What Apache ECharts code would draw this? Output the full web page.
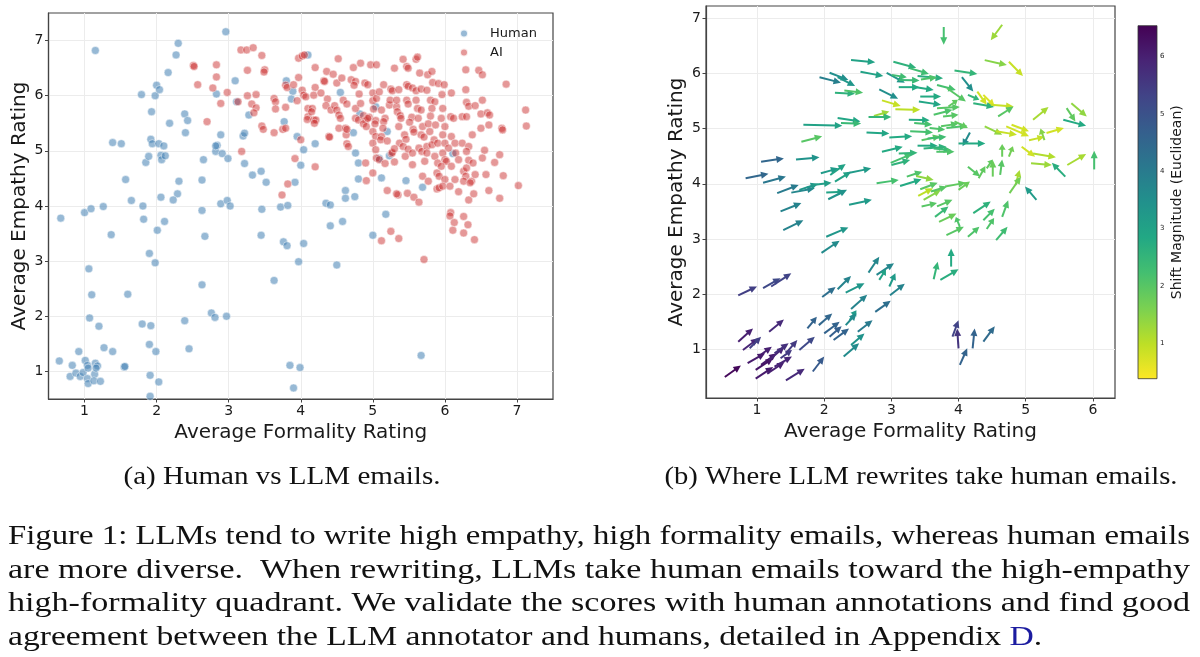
<!DOCTYPE html>
<html>
<head>
<meta charset="utf-8">
<script src="https://cdn.jsdelivr.net/npm/echarts@6/dist/echarts.min.js"></script>
<style>
html, body { margin: 0; padding: 0; background: #fff; }
#main { width: 1200px; height: 657px; }
</style>
</head>
<body>
<div id="main"></div>
<script>
// ---- (a) Human vs LLM emails ----
var humanX = [0.67,1.15,1.00,1.09,1.26,1.06,1.10,1.07,1.20,1.27,1.39,0.92,0.65,0.83,0.80,0.88,0.94,0.98,1.01,1.04,
  1.05,1.04,1.05,1.15,1.18,1.14,1.16,1.13,1.22,1.55,1.56,1.60,1.37,1.39,1.51,1.57,1.65,1.79,1.81,1.82,
  1.85,1.89,1.93,1.92,1.94,1.98,2.00,2.04,2.03,2.06,2.07,2.12,2.10,2.06,2.11,2.01,1.90,1.98,1.80,1.92,
  1.90,1.99,1.91,2.03,1.91,2.16,2.27,2.30,2.18,2.39,2.43,2.40,2.31,2.29,2.23,2.39,2.45,2.63,2.65,2.63,
  2.67,2.63,2.76,2.81,2.97,2.96,2.83,3.09,2.82,2.84,2.82,2.89,2.91,2.99,2.89,2.98,3.02,3.11,3.28,3.20,
  3.22,3.22,3.33,3.45,3.52,3.46,3.45,3.63,3.76,3.81,3.72,3.82,3.77,3.80,3.89,3.87,3.95,4.00,4.04,3.92,
  4.04,3.97,3.85,3.99,3.90,4.10,4.20,4.35,4.41,4.41,4.58,4.50,4.55,4.62,4.62,4.75,4.76,4.80,4.80,4.73,
  5.00,5.12,5.18,5.04,5.09,5.20,5.23,5.46,5.69,5.67,6.11,4.82];
var humanY = [3.78,6.82,3.88,3.95,3.99,2.86,2.39,1.97,1.82,1.43,1.36,1.36,1.19,1.11,0.91,0.97,0.91,0.98,1.20,1.11,
  1.06,0.87,0.78,1.15,1.10,0.95,1.06,0.83,0.82,1.08,1.09,2.40,3.48,5.15,5.13,4.48,4.10,6.02,4.00,3.76,
  4.79,4.90,5.71,5.21,5.13,6.00,6.19,6.11,5.13,4.92,4.84,4.91,5.09,4.16,3.72,3.56,3.14,2.97,1.86,1.83,
  1.49,1.36,0.93,0.81,0.55,6.42,6.74,6.95,5.50,5.67,5.55,5.33,4.45,4.22,4.11,1.92,1.41,4.47,4.84,3.92,
  3.45,2.57,2.06,1.98,2.00,7.16,6.03,6.27,4.99,5.10,5.09,5.29,4.95,4.86,4.04,4.10,4.00,5.89,5.65,5.27,
  5.32,4.77,4.56,4.63,4.43,3.94,3.47,2.65,3.35,3.28,3.98,4.01,5.53,6.27,6.08,5.94,5.26,4.74,5.02,4.43,
  3.32,2.99,1.11,1.07,0.70,6.74,5.13,4.05,4.02,3.64,3.72,2.93,6.06,4.28,4.14,4.17,4.96,4.78,4.49,5.33,
  3.47,4.51,3.85,5.80,4.86,5.35,4.91,4.46,4.34,1.29,4.95,5.67];
var aiX = [2.51,2.52,2.57,2.70,2.78,2.83,2.83,2.89,2.98,3.13,3.17,3.25,3.34,3.26,3.46,3.50,3.49,3.26,3.38,3.32,
  3.38,3.35,3.18,3.46,3.48,3.63,3.65,3.65,3.63,3.75,3.79,3.79,3.81,3.79,3.90,3.95,3.97,3.97,4.02,4.05,
  4.02,4.04,4.07,4.00,3.92,3.82,3.74,4.20,4.10,4.16,4.10,4.09,4.15,4.18,4.21,4.19,4.20,4.18,4.28,4.20,
  4.32,4.33,4.36,4.45,4.37,4.35,4.42,4.47,4.50,4.50,4.57,4.52,4.53,4.55,4.39,4.40,4.53,4.62,4.63,4.59,
  4.64,4.64,4.66,4.64,4.73,4.70,4.76,4.74,4.83,4.81,4.76,4.83,4.76,4.80,4.87,4.90,4.87,4.91,4.95,4.93,
  4.90,4.91,4.89,4.93,4.97,5.05,5.00,5.00,5.05,5.01,5.04,5.03,5.00,5.04,5.00,5.04,5.00,5.05,5.09,5.12,
  5.11,5.12,5.09,5.15,5.17,5.15,5.20,5.17,5.20,5.23,5.24,5.25,5.27,5.26,5.27,5.30,5.30,5.25,5.12,5.33,
  5.34,5.33,5.36,5.35,5.37,5.36,5.33,5.38,5.39,5.36,5.42,5.47,5.49,5.47,5.49,5.55,5.47,5.49,5.44,5.46,
  5.42,5.49,5.45,5.54,5.51,5.56,5.57,5.55,5.55,5.48,5.57,5.64,5.60,5.62,5.65,5.60,5.67,5.62,5.67,5.60,
  5.63,5.69,5.67,5.71,5.64,5.68,5.75,5.75,5.72,5.69,5.77,5.71,5.75,5.76,5.82,5.83,5.80,5.86,5.82,5.80,
  5.77,5.79,5.87,5.85,5.82,5.90,5.86,5.90,5.89,5.92,5.89,5.92,5.91,5.99,5.96,5.97,5.95,6.00,5.97,6.00,
  6.05,5.97,6.00,6.02,5.95,6.00,5.97,6.07,6.09,6.08,6.12,6.09,6.14,6.15,6.09,6.14,6.08,6.07,6.13,6.11,
  6.19,6.19,6.24,6.24,6.26,6.29,6.26,6.26,6.26,6.32,6.29,6.29,6.30,6.33,6.30,6.33,6.30,6.33,6.30,6.33,
  6.38,6.37,6.35,6.39,6.42,6.40,6.41,6.42,6.47,6.52,6.50,6.52,6.50,6.55,6.52,6.57,6.59,6.62,6.61,6.61,
  6.69,6.76,6.76,6.81,6.79,6.80,6.85,7.02,7.12,7.13,5.14,5.30];
var aiY = [6.55,6.53,6.20,5.53,6.14,6.56,6.34,5.86,6.06,5.89,6.83,6.83,6.87,6.46,6.73,6.47,6.43,6.00,6.02,5.85,
  5.78,5.69,4.99,5.45,5.39,5.95,5.89,5.76,5.33,5.39,5.41,6.19,6.15,5.79,6.20,5.91,6.33,6.68,6.72,6.74,
  6.10,6.01,5.98,5.20,4.86,4.40,4.20,6.51,5.77,5.77,5.62,5.57,5.71,5.56,5.56,5.50,6.15,6.01,6.05,4.71,
  6.27,6.26,6.44,6.39,5.94,5.82,5.74,5.82,5.74,6.23,6.32,6.67,5.65,5.59,5.26,5.25,5.41,5.41,5.29,5.92,
  5.85,5.13,5.08,5.39,6.51,6.29,6.26,6.19,6.59,6.03,5.77,5.86,5.59,5.56,5.64,5.55,5.49,5.44,5.61,5.59,
  4.78,4.46,6.23,6.20,6.56,6.56,6.05,5.91,5.95,5.76,5.55,5.49,5.35,5.26,5.14,5.02,4.60,4.87,4.84,5.26,
  5.20,5.74,6.07,6.20,5.59,5.53,5.18,4.77,4.28,5.83,5.92,6.12,6.09,4.95,4.97,6.50,4.80,3.54,3.37,5.80,
  5.71,5.92,6.11,4.20,5.14,3.41,4.22,5.64,5.59,5.44,6.66,6.53,6.50,6.20,6.17,6.14,5.92,5.85,5.29,5.21,
  5.08,5.03,4.90,5.61,5.52,5.39,5.34,4.96,4.75,4.23,4.16,4.07,6.66,6.70,6.41,6.09,6.12,5.77,5.74,5.92,
  5.59,5.44,5.29,5.25,5.05,4.99,5.08,4.96,4.81,4.54,4.45,3.03,6.10,6.38,6.44,6.24,5.92,5.89,5.77,5.63,
  5.49,5.35,5.47,5.20,5.11,5.14,4.90,4.78,4.60,4.54,4.31,4.33,6.22,6.20,6.02,5.77,5.59,5.44,5.29,5.14,
  5.05,4.96,4.84,4.81,4.72,4.48,4.36,4.36,6.05,5.62,5.59,5.26,5.14,4.96,4.72,4.48,3.88,3.82,3.70,3.56,
  4.26,4.84,5.14,5.62,4.63,4.54,4.45,3.81,3.51,3.66,6.47,6.11,5.88,5.81,5.62,5.08,4.99,4.83,4.69,4.11,
  5.29,4.45,4.42,4.78,4.57,4.22,3.39,5.82,6.46,6.38,5.67,5.92,5.41,5.01,4.87,4.57,5.69,5.65,4.28,5.47,
  4.79,4.93,4.14,4.55,5.41,5.38,6.21,4.37,5.74,5.45,5.41,5.04];

// ---- (b) rewrite shifts: tail position, drawn direction, shift magnitude ----
var arrowX = [3.78,4.65,2.40,3.03,3.28,4.39,4.75,3.94,2.54,2.08,1.93,2.20,2.93,3.01,3.39,3.44,3.11,4.05,2.16,2.30,
  2.82,3.11,3.37,3.68,3.83,4.14,4.28,4.37,3.43,3.41,2.86,3.06,2.74,3.85,3.68,4.22,4.48,4.59,3.63,3.77,
  5.11,5.61,5.68,5.56,2.20,2.25,1.69,2.66,3.26,3.34,3.74,3.82,3.94,3.57,4.39,4.56,4.71,4.79,5.05,5.31,
  5.28,1.66,2.63,2.97,3.28,3.45,3.54,4.17,4.00,3.39,3.48,3.63,3.67,2.86,2.99,3.11,4.65,4.75,4.94,5.11,
  5.08,5.62,6.02,5.59,1.06,1.58,0.83,1.09,1.30,1.51,1.63,1.83,1.95,2.09,2.16,2.34,2.03,2.06,2.37,1.35,
  1.39,2.03,1.96,2.78,3.00,3.13,3.23,3.37,3.43,3.40,3.48,3.59,3.80,4.00,4.14,4.30,4.42,4.51,4.62,4.85,
  4.76,5.16,3.45,3.65,3.71,3.82,3.68,4.02,4.14,4.22,4.37,4.42,4.56,4.65,3.63,3.89,3.73,2.66,2.78,2.82,
  2.98,2.97,2.20,1.97,2.32,0.72,1.09,1.21,2.40,2.76,2.38,1.75,1.92,2.00,2.08,2.14,2.32,2.50,2.40,2.29,
  1.63,1.43,1.18,0.72,0.79,0.89,1.02,1.06,0.86,0.98,1.18,1.26,1.35,0.52,0.98,1.15,1.26,1.43,1.83,3.91,
  4.00,4.02,4.21,4.37];
var arrowY = [6.84,6.88,6.24,6.21,6.09,6.24,6.21,6.05,6.03,6.01,5.93,5.93,6.01,5.97,5.95,5.89,5.88,5.93,5.65,5.69,
  5.71,5.75,5.75,5.79,5.73,5.61,5.67,5.61,5.58,5.49,5.51,5.35,5.23,5.40,5.37,5.46,5.43,5.22,5.25,5.22,
  5.16,5.37,5.46,5.16,5.19,5.10,5.07,5.21,5.16,5.10,5.04,5.01,5.13,5.01,5.04,4.95,5.04,5.07,4.79,4.92,
  4.79,4.76,4.93,4.84,4.95,4.79,4.82,4.93,4.73,4.69,4.64,4.64,4.58,4.58,4.38,4.55,4.49,4.49,4.67,4.55,
  4.37,4.34,4.26,4.13,4.40,4.44,4.10,4.02,3.83,3.84,3.89,3.98,4.19,4.16,4.04,4.19,3.84,3.72,3.62,3.50,
  3.16,3.04,2.75,4.01,4.34,3.96,4.13,4.14,3.90,3.78,3.71,3.86,3.95,3.89,4.31,4.10,4.28,4.13,4.16,3.98,
  3.83,3.71,3.59,3.40,3.31,3.07,3.59,3.22,3.04,3.47,3.34,3.18,2.98,3.40,2.27,2.50,2.26,2.39,2.35,2.26,
  1.98,2.14,2.09,1.95,2.03,1.98,2.11,2.14,1.73,1.68,1.53,1.38,1.44,1.29,1.23,1.17,1.44,1.32,1.08,0.87,
  0.99,0.93,1.32,1.14,0.99,1.02,0.87,0.72,0.75,0.63,0.81,0.93,0.84,0.50,0.47,0.56,0.69,0.44,0.60,1.23,
  1.02,0.72,1.02,1.14];
var arrowU = [0,-0.17,0.36,0.34,0.28,0.33,0.21,0.34,0.34,0.28,0.32,0.26,0.27,0.22,0.38,0.24,0.31,0.17,0.30,0.28,
  0.28,0.31,0.26,0.28,0.28,0.17,0.14,0.17,0.31,0.33,0.28,0.37,0.23,0.14,0.34,0.31,0.34,0.23,0.28,0.23,
  0.23,0.13,0.23,0.34,0.34,0.30,0.58,0.34,0.31,0.27,0.26,0.31,0.20,0.23,0.26,0.31,0.34,0.26,0.23,0.26,
  -0.06,0.31,0.34,0.34,0.34,0.28,0.28,-0.11,0.40,0.30,0.34,0.26,0.27,0.31,0.32,0.28,0,0.06,0.20,0.34,
  0.31,0.28,0,-0.20,0.34,0.35,0.34,0.34,0.32,0.35,0.28,0.28,0.26,0.23,0.24,0.36,0.28,0.28,0.34,0.31,
  0.30,0.33,0.27,0.33,0.28,0.32,0.23,0.26,0.26,0.22,0.26,0.24,0.31,0.17,0.18,0.10,0.09,0,0.03,0.06,
  0.17,-0.17,0.23,0.20,0.26,0.26,0.23,-0.06,0.17,0.26,0.17,0.11,0.17,0.09,0.06,0,0.27,0.16,0.26,0.10,
  0.22,0.09,0.20,0.20,0.28,0.28,0.26,0.30,0.24,0.23,0.10,0.14,0.20,0.23,0.18,0.23,0.16,0.22,0.20,0.23,
  0.23,0.17,0.22,0.22,0.23,0.17,0.20,0.23,0.26,0.26,0.23,0.21,0.17,0.24,0.26,0.26,0.26,0.28,0.17,0.09,
  -0.02,0.11,0.03,0.17];
var arrowV = [-0.32,-0.28,-0.04,-0.11,-0.10,-0.09,-0.26,-0.06,-0.08,-0.13,-0.10,-0.16,-0.18,-0.04,-0.04,0.04,-0.01,-0.26,-0.02,-0.04,
  -0.17,0,-0.05,-0.09,-0.24,-0.09,-0.24,-0.21,0,-0.06,-0.10,-0.01,0.08,0.12,0.02,-0.07,-0.03,0.18,0.09,0.03,
  0.23,-0.24,-0.24,-0.11,-0.06,-0.01,-0.02,0,-0.01,-0.03,0.05,0.04,-0.12,-0.03,-0.15,-0.06,-0.18,-0.12,0.06,0.09,
  0.21,0.10,-0.02,0.02,-0.02,0.07,0.03,-0.25,0,0,0.03,-0.03,0,0.09,0.16,0.01,0.23,0.19,-0.18,-0.07,
  -0.03,0.20,0.34,0.25,0.06,0.04,0.08,0.11,0.15,0.08,0.11,0.04,0.09,0.20,0.18,0.09,0.02,0.17,0.09,0.15,
  0.18,0.17,0.22,0.06,0.09,0.12,0.09,-0.07,0.12,0.14,0.18,0.09,0.07,0.15,-0.18,0.22,0.16,0.30,0.28,0.27,
  0.30,0.24,0.06,0.19,0.15,0.15,0.12,0.18,0.18,0.21,0.21,0.20,0.24,0.30,0.32,0.33,0.19,0.29,0.21,0.19,
  0.21,0.24,0.24,0.18,0.17,0.16,0.18,0.24,0.26,0.20,0.18,0.21,0.21,0.21,0.19,0.21,0.21,0.21,0.21,0.24,
  0.24,0.24,0.22,0.24,0.21,0.21,0.18,0.21,0.18,0.21,0.24,0.18,0.15,0.21,0.21,0.21,0.18,0.21,0.27,0.30,
  0.36,0.30,0.36,0.28];
var arrowMag = [2.2,1.3,3.0,2.6,2.3,1.5,0.9,2.5,3.0,3.5,3.9,3.3,3.3,2.3,2.7,2.1,2.4,3.5,2.6,2.1,
  3.5,2.8,2.8,2.2,2.0,2.5,0.8,0.7,2.8,2.9,0.9,1.0,1.3,1.9,2.0,2.6,0.9,2.0,2.1,2.0,
  1.2,1.9,1.4,2.8,2.9,2.4,3.0,2.5,2.8,2.2,2.0,2.1,1.9,2.1,1.4,0.9,0.8,0.8,0.9,0.8,
  1.5,2.0,2.9,2.8,2.2,2.0,2.3,3.6,2.8,2.8,2.6,2.4,2.1,2.8,2.2,2.5,1.8,1.7,0.8,1.1,
  1.3,1.2,2.2,2.7,4.5,3.4,4.5,4.1,4.0,3.7,3.3,3.1,3.2,3.0,3.0,3.2,3.0,3.4,3.2,3.8,
  3.8,3.3,3.6,2.2,2.6,2.8,2.1,1.4,2.0,1.0,1.5,2.0,1.9,1.8,2.0,1.9,1.9,1.8,2.0,1.2,
  1.7,3.2,2.0,2.4,1.8,2.0,2.0,2.1,2.1,2.6,2.2,2.1,2.3,2.1,2.5,2.8,2.7,3.7,3.7,3.0,
  3.8,3.2,3.8,4.3,3.3,5.4,5.2,5.3,3.8,4.3,3.2,4.6,4.5,4.6,4.7,4.6,3.6,4.0,3.4,3.6,
  5.2,5.5,5.8,6.0,5.9,5.4,6.0,6.1,6.1,6.2,5.9,5.7,5.5,6.4,6.1,6.0,5.9,5.8,4.8,5.3,
  5.6,4.6,4.6,4.4];

var ticksA = [1, 2, 3, 4, 5, 6, 7];
var ticksBx = [1, 2, 3, 4, 5, 6];
var ticksBy = [1, 2, 3, 4, 5, 6, 7];
var barTicks = [1, 2, 3, 4, 5, 6];
var barRange = [0.38, 6.54];

var subCaptions = ['(a) Human vs LLM emails.', '(b) Where LLM rewrites take human emails.'];
var captionLines = [
  'Figure 1: LLMs tend to write high empathy, high formality emails, whereas human emails',
  'are more diverse.  When rewriting, LLMs take human emails toward the high-empathy',
  'high-formality quadrant. We validate the scores with human annotations and find good',
  'agreement between the LLM annotator and humans, detailed in Appendix '
];

// viridis, dark to light
var viridis = ['#440154','#482475','#414487','#355f8d','#2a788e','#21918c','#22a884','#44bf70','#7ad151','#bddf26','#fde725'];

function zip(a, b) {
  var out = [];
  for (var i = 0; i < a.length; i++) out.push([a[i], b[i]]);
  return out;
}
var arrowData = [];
for (var i = 0; i < arrowX.length; i++) {
  arrowData.push([arrowX[i], arrowY[i], arrowU[i], arrowV[i], arrowMag[i]]);
}

var sans = 'DejaVu Sans';
var serif = 'Liberation Serif';
var frame = '#444';

function axis(gridIndex, min, max, ticks, name, gap) {
  return {
    type: 'value', gridIndex: gridIndex, min: min, max: max,
    name: name, nameLocation: 'middle', nameGap: gap,
    nameTextStyle: { fontSize: 20, color: '#1a1a1a', fontFamily: sans },
    axisLine: { show: true, lineStyle: { color: frame, width: 1.2 } },
    axisTick: { show: true, customValues: ticks, length: 3.5, lineStyle: { color: frame, width: 1 } },
    axisLabel: { customValues: ticks, fontSize: 14, color: '#1a1a1a', fontFamily: sans, margin: 5 },
    splitLine: { show: true, lineStyle: { color: '#ececec', width: 1 } }
  };
}

function renderArrow(params, api) {
  var x = api.value(0), y = api.value(1);
  var p0 = api.coord([x, y]);
  var p1 = api.coord([x + api.value(2), y + api.value(3)]);
  var dx = p1[0] - p0[0], dy = p1[1] - p0[1];
  var len = Math.sqrt(dx * dx + dy * dy) || 1;
  var ux = dx / len, uy = dy / len;
  var hl = Math.min(7.5, len * 0.45), hw = 3.5;
  var bx = p1[0] - ux * hl, by = p1[1] - uy * hl;
  var color = api.visual('color');
  return {
    type: 'group',
    children: [
      { type: 'line', shape: { x1: p0[0], y1: p0[1], x2: bx + ux, y2: by + uy }, style: { stroke: color, lineWidth: 2 } },
      { type: 'polygon', shape: { points: [[p1[0], p1[1]], [bx - uy * hw, by + ux * hw], [bx + uy * hw, by - ux * hw]] }, style: { fill: color } }
    ]
  };
}

function renderBar(params, api) {
  var tl = api.coord([0, barRange[1]]);
  var br = api.coord([1, barRange[0]]);
  var stops = viridis.map(function (c, i) { return { offset: i / (viridis.length - 1), color: c }; });
  return {
    type: 'rect',
    shape: { x: tl[0], y: tl[1], width: br[0] - tl[0], height: br[1] - tl[1] },
    style: { fill: new echarts.graphic.LinearGradient(0, 0, 0, 1, stops), stroke: '#333', lineWidth: 0.8 }
  };
}

// caption text, stretched to the justified line widths of the original
var ctx = document.createElement('canvas').getContext('2d');
function measure(s, font) { ctx.font = font; return ctx.measureText(s).width; }
var capFont = '28px "' + serif + '"';
var subFont = '25px "' + serif + '"';
var graphics = [];
var subCenters = [282, 921], subWidths = [317, 513];
subCaptions.forEach(function (s, i) {
  graphics.push({
    type: 'text', x: subCenters[i], y: 477, scaleX: subWidths[i] / measure(s, subFont),
    style: { text: s, font: subFont, fill: '#111', textAlign: 'center', textVerticalAlign: 'middle' }
  });
});
var lineY = [537, 571, 604, 638];
var scales = [];
for (var j = 0; j < 3; j++) {
  var sc = 1182 / measure(captionLines[j], capFont);
  scales.push(sc);
  graphics.push({
    type: 'text', x: 8, y: lineY[j], scaleX: sc,
    style: { text: captionLines[j], font: capFont, fill: '#111', textVerticalAlign: 'middle' }
  });
}
var lastScale = (scales[0] + scales[1] + scales[2]) / 3;
var lastW = measure(captionLines[3], capFont) * lastScale;
graphics.push({ type: 'text', x: 8, y: lineY[3], scaleX: lastScale,
  style: { text: captionLines[3], font: capFont, fill: '#111', textVerticalAlign: 'middle' } });
graphics.push({ type: 'text', x: 8 + lastW, y: lineY[3], scaleX: lastScale,
  style: { text: 'D', font: capFont, fill: '#1c1ca0', textVerticalAlign: 'middle' } });
graphics.push({ type: 'text', x: 8 + lastW + measure('D', capFont) * lastScale, y: lineY[3], scaleX: lastScale,
  style: { text: '.', font: capFont, fill: '#111', textVerticalAlign: 'middle' } });

var chart = echarts.init(document.getElementById('main'), null, { renderer: 'canvas' });
chart.setOption({
  animation: false,
  backgroundColor: '#fff',
  textStyle: { fontFamily: sans },
  grid: [
    { left: 48.5, top: 13, width: 504.5, height: 386, show: true, borderColor: frame, borderWidth: 1.2, backgroundColor: 'transparent' },
    { left: 706, top: 6, width: 409, height: 392, show: true, borderColor: frame, borderWidth: 1.2, backgroundColor: 'transparent' },
    { left: 1138, top: 25.7, width: 19, height: 353 }
  ],
  xAxis: [
    axis(0, 0.5, 7.5, ticksA, 'Average Formality Rating', 21),
    axis(1, 0.24, 6.33, ticksBx, 'Average Formality Rating', 21),
    { type: 'value', gridIndex: 2, min: 0, max: 1, show: false }
  ],
  yAxis: [
    axis(0, 0.5, 7.5, ticksA, 'Average Empathy Rating', 19),
    axis(1, 0.12, 7.22, ticksBy, 'Average Empathy Rating', 19),
    {
      type: 'value', gridIndex: 2, min: barRange[0], max: barRange[1], position: 'right',
      name: 'Shift Magnitude (Euclidean)', nameLocation: 'middle', nameRotate: 90, nameGap: 13,
      nameTextStyle: { fontSize: 14, color: '#1a1a1a', fontFamily: sans },
      axisLine: { show: false },
      axisTick: { show: true, customValues: barTicks, length: 2.5, lineStyle: { color: '#333', width: 0.8 } },
      axisLabel: { customValues: barTicks, fontSize: 7, color: '#222', margin: 3 },
      splitLine: { show: false }
    }
  ],
  legend: {
    data: ['Human', 'AI'], orient: 'vertical', left: 454, top: 22,
    itemWidth: 42, itemHeight: 8, itemGap: 6, icon: 'circle',
    textStyle: { fontSize: 13, color: '#1a1a1a', fontFamily: sans }
  },
  visualMap: {
    type: 'continuous', show: false, seriesIndex: 2, dimension: 4,
    min: barRange[0], max: barRange[1], inRange: { color: viridis.slice().reverse() }
  },
  series: [
    {
      name: 'Human', type: 'scatter', xAxisIndex: 0, yAxisIndex: 0, symbolSize: 8,
      itemStyle: { color: 'rgba(70,130,180,0.7)', borderColor: '#fff', borderWidth: 0.6 },
      data: zip(humanX, humanY)
    },
    {
      name: 'AI', type: 'scatter', xAxisIndex: 0, yAxisIndex: 0, symbolSize: 8,
      itemStyle: { color: 'rgba(200,40,40,0.6)', borderColor: '#fff', borderWidth: 0.6 },
      data: zip(aiX, aiY)
    },
    {
      name: 'shift', type: 'custom', xAxisIndex: 1, yAxisIndex: 1,
      renderItem: renderArrow, encode: { x: 0, y: 1 }, data: arrowData, clip: true
    },
    {
      name: 'colorbar', type: 'custom', xAxisIndex: 2, yAxisIndex: 2,
      renderItem: renderBar, data: [[0, barRange[0]]], silent: true
    }
  ],
  graphic: graphics
});
</script>
</body>
</html>
